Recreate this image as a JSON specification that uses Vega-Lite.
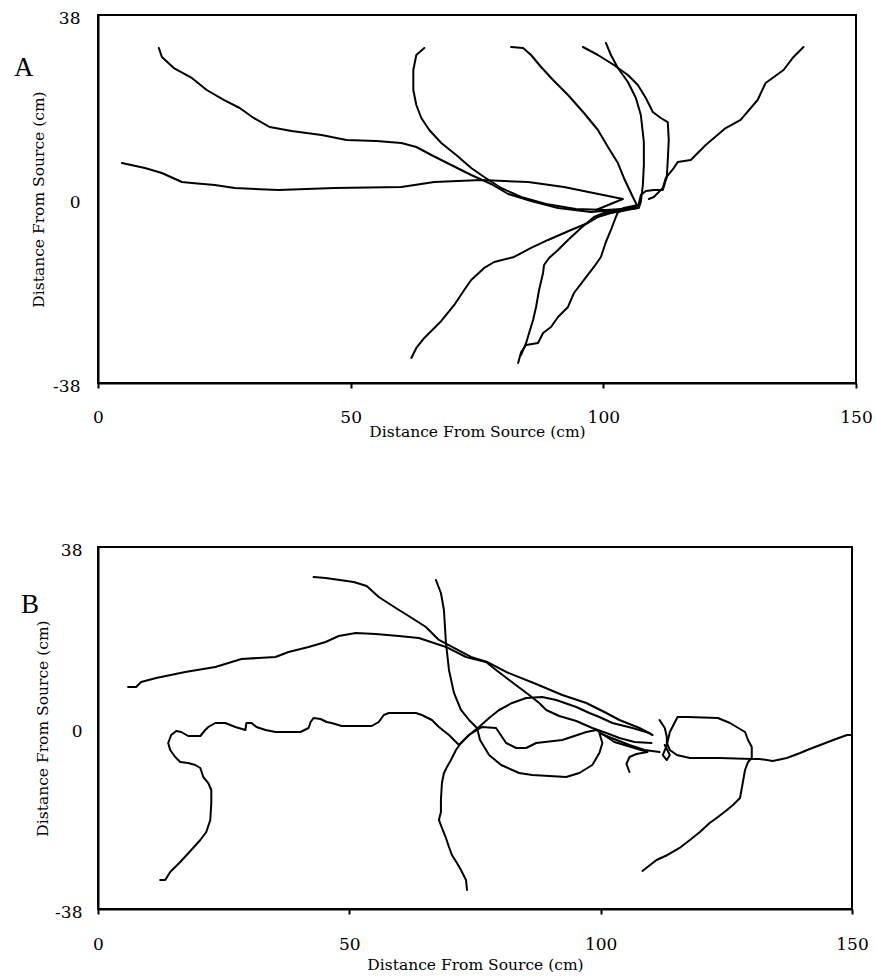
{
"$schema":"https://vega.github.io/schema/vega-lite/v6.json",
"background":"white",
"padding":{"left":13,"top":8,"right":0,"bottom":0},
"spacing":164,
"bounds":"flush",
"config":{
 "view":{"stroke":"black","strokeWidth":2},
 "axis":{"grid":false,"domainColor":"black","domainWidth":2,"tickColor":"black","tickWidth":2,"labelColor":"black","titleColor":"black","labelFont":"DejaVu Serif","titleFont":"DejaVu Serif","labelFontSize":17,"titleFontSize":15.5,"titleFontWeight":"normal","labelFlush":false,"labelOverlap":false},
 "title":{"font":"Liberation Serif","fontSize":27,"fontWeight":"normal","color":"black"}
},
"datasets":{
"A":[
{"t":1,"i":0,"x":12.05,"y":31.18},{"t":1,"i":1,"x":12.64,"y":29.33},{"t":1,"i":2,"x":15.01,"y":27.05},{"t":1,"i":3,"x":18.56,"y":24.99},{"t":1,"i":4,"x":21.52,"y":22.51},{"t":1,"i":5,"x":24.88,"y":20.45},{"t":1,"i":6,"x":28.04,"y":18.79},{"t":1,"i":7,"x":30.81,"y":16.73},{"t":1,"i":8,"x":33.96,"y":14.87},{"t":1,"i":9,"x":38.31,"y":14.04},{"t":1,"i":10,"x":44.23,"y":13.22},{"t":1,"i":11,"x":49.17,"y":12.18},{"t":1,"i":12,"x":55.09,"y":11.98},{"t":1,"i":13,"x":60.03,"y":11.57},{"t":1,"i":14,"x":62.99,"y":10.74},{"t":1,"i":15,"x":66.35,"y":8.88},{"t":1,"i":16,"x":69.90,"y":7.02},{"t":1,"i":17,"x":73.85,"y":4.96},{"t":1,"i":18,"x":77.80,"y":3.10},{"t":1,"i":19,"x":81.16,"y":1.03},{"t":1,"i":20,"x":85.70,"y":-0.41},{"t":1,"i":21,"x":91.03,"y":-1.86},{"t":1,"i":22,"x":97.55,"y":-2.68},{"t":1,"i":23,"x":102.49,"y":-2.27},{"t":1,"i":24,"x":106.83,"y":-1.86},
{"t":2,"i":0,"x":64.57,"y":31.18},{"t":2,"i":1,"x":62.99,"y":29.74},{"t":2,"i":2,"x":62.40,"y":26.64},{"t":2,"i":3,"x":62.40,"y":22.51},{"t":2,"i":4,"x":62.99,"y":19.41},{"t":2,"i":5,"x":63.98,"y":16.73},{"t":2,"i":6,"x":65.56,"y":14.25},{"t":2,"i":7,"x":67.93,"y":11.57},{"t":2,"i":8,"x":70.89,"y":9.09},{"t":2,"i":9,"x":73.85,"y":6.40},{"t":2,"i":10,"x":76.42,"y":4.55},{"t":2,"i":11,"x":79.78,"y":2.27},{"t":2,"i":12,"x":83.73,"y":0.41},{"t":2,"i":13,"x":88.66,"y":-1.03},{"t":2,"i":14,"x":94.59,"y":-2.06},{"t":2,"i":15,"x":100.51,"y":-2.27},{"t":2,"i":16,"x":106.83,"y":-1.86},
{"t":3,"i":0,"x":4.74,"y":7.43},{"t":3,"i":1,"x":9.28,"y":6.40},{"t":3,"i":2,"x":12.64,"y":5.37},{"t":3,"i":3,"x":16.59,"y":3.51},{"t":3,"i":4,"x":18.56,"y":3.30},{"t":3,"i":5,"x":23.10,"y":2.89},{"t":3,"i":6,"x":27.05,"y":2.27},{"t":3,"i":7,"x":35.74,"y":1.86},{"t":3,"i":8,"x":46.80,"y":2.27},{"t":3,"i":9,"x":60.03,"y":2.48},{"t":3,"i":10,"x":66.55,"y":3.51},{"t":3,"i":11,"x":75.83,"y":3.92},{"t":3,"i":12,"x":85.11,"y":3.51},{"t":3,"i":13,"x":92.22,"y":2.48},{"t":3,"i":14,"x":103.87,"y":0.0},{"t":3,"i":15,"x":98.54,"y":-2.27},{"t":3,"i":16,"x":102.49,"y":-2.68},{"t":3,"i":17,"x":106.83,"y":-1.86},
{"t":4,"i":0,"x":95.97,"y":31.39},{"t":4,"i":1,"x":98.93,"y":29.74},{"t":4,"i":2,"x":102.09,"y":27.67},{"t":4,"i":3,"x":104.86,"y":25.61},{"t":4,"i":4,"x":106.83,"y":23.54},{"t":4,"i":5,"x":108.41,"y":20.86},{"t":4,"i":6,"x":109.79,"y":17.97},{"t":4,"i":7,"x":111.37,"y":16.73},{"t":4,"i":8,"x":112.75,"y":15.90},{"t":4,"i":9,"x":112.95,"y":12.18},{"t":4,"i":10,"x":112.75,"y":8.06},{"t":4,"i":11,"x":112.56,"y":4.55},{"t":4,"i":12,"x":111.77,"y":1.86},{"t":4,"i":13,"x":109.99,"y":1.86},{"t":4,"i":14,"x":108.41,"y":1.65},{"t":4,"i":15,"x":107.43,"y":0.83},{"t":4,"i":16,"x":106.83,"y":-1.86},
{"t":5,"i":0,"x":100.51,"y":32.22},{"t":5,"i":1,"x":101.50,"y":29.74},{"t":5,"i":2,"x":102.88,"y":27.05},{"t":5,"i":3,"x":104.86,"y":24.16},{"t":5,"i":4,"x":106.44,"y":20.86},{"t":5,"i":5,"x":107.42,"y":17.35},{"t":5,"i":6,"x":108.02,"y":11.77},{"t":5,"i":7,"x":108.02,"y":7.02},{"t":5,"i":8,"x":107.82,"y":2.89},{"t":5,"i":9,"x":107.42,"y":-0.62},{"t":5,"i":10,"x":107.03,"y":-1.86},
{"t":6,"i":0,"x":81.75,"y":31.39},{"t":6,"i":1,"x":84.12,"y":31.18},{"t":6,"i":2,"x":85.70,"y":29.74},{"t":6,"i":3,"x":87.68,"y":27.26},{"t":6,"i":4,"x":90.05,"y":24.58},{"t":6,"i":5,"x":93.01,"y":21.48},{"t":6,"i":6,"x":96.17,"y":17.76},{"t":6,"i":7,"x":98.93,"y":14.25},{"t":6,"i":8,"x":100.91,"y":10.74},{"t":6,"i":9,"x":102.88,"y":7.43},{"t":6,"i":10,"x":104.07,"y":4.34},{"t":6,"i":11,"x":105.84,"y":0.41},{"t":6,"i":12,"x":106.83,"y":-1.65},
{"t":7,"i":0,"x":139.61,"y":31.39},{"t":7,"i":1,"x":137.64,"y":29.33},{"t":7,"i":2,"x":135.66,"y":26.64},{"t":7,"i":3,"x":132.11,"y":23.96},{"t":7,"i":4,"x":130.53,"y":20.45},{"t":7,"i":5,"x":127.17,"y":16.32},{"t":7,"i":6,"x":124.21,"y":14.66},{"t":7,"i":7,"x":120.26,"y":11.15},{"t":7,"i":8,"x":117.30,"y":8.06},{"t":7,"i":9,"x":114.73,"y":7.64},{"t":7,"i":10,"x":113.94,"y":6.40},{"t":7,"i":11,"x":112.36,"y":4.34},{"t":7,"i":12,"x":111.77,"y":2.27},{"t":7,"i":13,"x":109.99,"y":0.41},{"t":7,"i":14,"x":109.00,"y":0.0},
{"t":8,"i":0,"x":62.01,"y":-32.83},{"t":8,"i":1,"x":62.99,"y":-30.77},{"t":8,"i":2,"x":64.57,"y":-28.70},{"t":8,"i":3,"x":66.55,"y":-26.63},{"t":8,"i":4,"x":67.93,"y":-25.19},{"t":8,"i":5,"x":70.50,"y":-21.89},{"t":8,"i":6,"x":72.47,"y":-18.79},{"t":8,"i":7,"x":73.85,"y":-16.72},{"t":8,"i":8,"x":76.42,"y":-14.24},{"t":8,"i":9,"x":78.40,"y":-13.01},{"t":8,"i":10,"x":82.34,"y":-11.97},{"t":8,"i":11,"x":85.70,"y":-10.11},{"t":8,"i":12,"x":89.06,"y":-8.46},{"t":8,"i":13,"x":93.60,"y":-6.40},{"t":8,"i":14,"x":96.96,"y":-4.95},{"t":8,"i":15,"x":98.93,"y":-3.71},{"t":8,"i":16,"x":101.50,"y":-2.89},{"t":8,"i":17,"x":104.07,"y":-2.27},{"t":8,"i":18,"x":106.83,"y":-1.24},
{"t":9,"i":0,"x":83.14,"y":-33.86},{"t":9,"i":1,"x":83.73,"y":-31.59},{"t":9,"i":2,"x":84.72,"y":-30.15},{"t":9,"i":3,"x":87.08,"y":-29.73},{"t":9,"i":4,"x":88.07,"y":-27.67},{"t":9,"i":5,"x":89.65,"y":-26.43},{"t":9,"i":6,"x":91.03,"y":-24.37},{"t":9,"i":7,"x":93.01,"y":-22.30},{"t":9,"i":8,"x":94.19,"y":-19.41},{"t":9,"i":9,"x":96.17,"y":-16.72},{"t":9,"i":10,"x":98.14,"y":-14.04},{"t":9,"i":11,"x":99.52,"y":-11.97},{"t":9,"i":12,"x":100.51,"y":-8.88},{"t":9,"i":13,"x":101.50,"y":-6.40},{"t":9,"i":14,"x":102.49,"y":-3.71},{"t":9,"i":15,"x":103.08,"y":-2.27},{"t":9,"i":16,"x":104.07,"y":-1.86},{"t":9,"i":17,"x":106.83,"y":-1.24},
{"t":10,"i":0,"x":83.73,"y":-32.21},{"t":10,"i":1,"x":84.72,"y":-29.73},{"t":10,"i":2,"x":85.31,"y":-27.67},{"t":10,"i":3,"x":86.10,"y":-24.98},{"t":10,"i":4,"x":86.69,"y":-22.30},{"t":10,"i":5,"x":87.28,"y":-18.79},{"t":10,"i":6,"x":88.07,"y":-15.28},{"t":10,"i":7,"x":88.27,"y":-13.63},{"t":10,"i":8,"x":89.26,"y":-12.18},{"t":10,"i":9,"x":91.03,"y":-10.53},{"t":10,"i":10,"x":93.01,"y":-8.46},{"t":10,"i":11,"x":95.58,"y":-5.98},{"t":10,"i":12,"x":98.14,"y":-3.71},{"t":10,"i":13,"x":100.12,"y":-2.89},{"t":10,"i":14,"x":102.88,"y":-2.68},{"t":10,"i":15,"x":104.46,"y":-2.27},{"t":10,"i":16,"x":106.83,"y":-1.24}
],
"B":[
{"t":1,"i":0,"x":42.89,"y":31.70},{"t":1,"i":1,"x":45.28,"y":31.49},{"t":1,"i":2,"x":50.87,"y":30.65},{"t":1,"i":3,"x":53.46,"y":29.81},{"t":1,"i":4,"x":55.85,"y":27.50},{"t":1,"i":5,"x":59.25,"y":25.19},{"t":1,"i":6,"x":62.44,"y":23.09},{"t":1,"i":7,"x":65.23,"y":21.20},{"t":1,"i":8,"x":67.82,"y":18.48},{"t":1,"i":9,"x":70.82,"y":16.80},{"t":1,"i":10,"x":74.21,"y":14.91},{"t":1,"i":11,"x":77.40,"y":13.86},{"t":1,"i":12,"x":81.19,"y":11.76},{"t":1,"i":13,"x":87.17,"y":9.24},{"t":1,"i":14,"x":92.36,"y":6.93},{"t":1,"i":15,"x":97.15,"y":5.25},{"t":1,"i":16,"x":100.74,"y":3.36},{"t":1,"i":17,"x":103.73,"y":1.68},{"t":1,"i":18,"x":107.72,"y":0.0},{"t":1,"i":19,"x":110.31,"y":-1.47},
{"t":2,"i":0,"x":5.98,"y":8.61},{"t":2,"i":1,"x":7.58,"y":8.61},{"t":2,"i":2,"x":8.58,"y":9.66},{"t":2,"i":3,"x":11.57,"y":10.50},{"t":2,"i":4,"x":17.35,"y":11.76},{"t":2,"i":5,"x":23.34,"y":12.81},{"t":2,"i":6,"x":28.53,"y":14.49},{"t":2,"i":7,"x":35.31,"y":14.91},{"t":2,"i":8,"x":37.90,"y":15.96},{"t":2,"i":9,"x":41.89,"y":17.01},{"t":2,"i":10,"x":45.28,"y":18.06},{"t":2,"i":11,"x":47.88,"y":19.32},{"t":2,"i":12,"x":51.27,"y":19.95},{"t":2,"i":13,"x":55.26,"y":19.74},{"t":2,"i":14,"x":59.84,"y":19.32},{"t":2,"i":15,"x":63.83,"y":18.90},{"t":2,"i":16,"x":69.22,"y":17.01},{"t":2,"i":17,"x":73.21,"y":14.91},{"t":2,"i":18,"x":77.20,"y":13.86},{"t":2,"i":19,"x":79.19,"y":12.18},{"t":2,"i":20,"x":81.79,"y":10.08},{"t":2,"i":21,"x":85.78,"y":6.93},{"t":2,"i":22,"x":87.77,"y":5.25},{"t":2,"i":23,"x":89.17,"y":3.78},{"t":2,"i":24,"x":91.76,"y":2.52},{"t":2,"i":25,"x":95.15,"y":1.47},{"t":2,"i":26,"x":98.34,"y":0.0},{"t":2,"i":27,"x":101.14,"y":-1.05},{"t":2,"i":28,"x":103.73,"y":-2.10},{"t":2,"i":29,"x":106.72,"y":-2.94},{"t":2,"i":30,"x":110.11,"y":-3.15},
{"t":3,"i":0,"x":67.22,"y":31.07},{"t":3,"i":1,"x":68.22,"y":28.34},{"t":3,"i":2,"x":68.82,"y":24.77},{"t":3,"i":3,"x":69.22,"y":17.85},{"t":3,"i":4,"x":69.82,"y":12.18},{"t":3,"i":5,"x":70.82,"y":7.35},{"t":3,"i":6,"x":72.21,"y":3.78},{"t":3,"i":7,"x":73.81,"y":1.68},{"t":3,"i":8,"x":75.41,"y":0.0},{"t":3,"i":9,"x":76.00,"y":-2.52},{"t":3,"i":10,"x":77.80,"y":-5.67},{"t":3,"i":11,"x":80.20,"y":-7.77},{"t":3,"i":12,"x":83.78,"y":-9.45},{"t":3,"i":13,"x":86.38,"y":-9.87},{"t":3,"i":14,"x":93.16,"y":-10.29},{"t":3,"i":15,"x":95.75,"y":-9.45},{"t":3,"i":16,"x":98.34,"y":-7.77},{"t":3,"i":17,"x":99.74,"y":-5.25},{"t":3,"i":18,"x":100.34,"y":-3.15},{"t":3,"i":19,"x":99.74,"y":-1.05},{"t":3,"i":20,"x":102.14,"y":-2.10},{"t":3,"i":21,"x":105.73,"y":-3.57},{"t":3,"i":22,"x":108.72,"y":-4.62},{"t":3,"i":23,"x":111.71,"y":-5.04},
{"t":4,"i":0,"x":12.37,"y":-31.91},{"t":4,"i":1,"x":13.37,"y":-31.91},{"t":4,"i":2,"x":14.36,"y":-30.23},{"t":4,"i":3,"x":16.36,"y":-28.13},{"t":4,"i":4,"x":18.55,"y":-25.61},{"t":4,"i":5,"x":20.35,"y":-23.51},{"t":4,"i":6,"x":21.54,"y":-21.83},{"t":4,"i":7,"x":22.34,"y":-19.31},{"t":4,"i":8,"x":22.54,"y":-15.74},{"t":4,"i":9,"x":22.54,"y":-13.02},{"t":4,"i":10,"x":21.94,"y":-11.55},{"t":4,"i":11,"x":20.95,"y":-10.29},{"t":4,"i":12,"x":20.35,"y":-8.40},{"t":4,"i":13,"x":19.35,"y":-7.77},{"t":4,"i":14,"x":17.95,"y":-7.35},{"t":4,"i":15,"x":16.36,"y":-7.14},{"t":4,"i":16,"x":15.36,"y":-6.09},{"t":4,"i":17,"x":14.36,"y":-4.62},{"t":4,"i":18,"x":13.96,"y":-3.15},{"t":4,"i":19,"x":14.56,"y":-1.47},{"t":4,"i":20,"x":15.56,"y":-0.63},{"t":4,"i":21,"x":16.56,"y":-0.84},{"t":4,"i":22,"x":17.95,"y":-1.68},{"t":4,"i":23,"x":20.35,"y":-1.68},{"t":4,"i":24,"x":21.34,"y":-0.42},{"t":4,"i":25,"x":21.94,"y":0.21},{"t":4,"i":26,"x":23.34,"y":1.05},{"t":4,"i":27,"x":25.33,"y":1.05},{"t":4,"i":28,"x":27.33,"y":0.21},{"t":4,"i":29,"x":29.32,"y":-0.42},{"t":4,"i":30,"x":29.52,"y":1.05},{"t":4,"i":31,"x":30.52,"y":1.05},{"t":4,"i":32,"x":31.52,"y":0.21},{"t":4,"i":33,"x":33.31,"y":-0.42},{"t":4,"i":34,"x":35.31,"y":-0.84},{"t":4,"i":35,"x":40.29,"y":-0.84},{"t":4,"i":36,"x":41.89,"y":0.0},{"t":4,"i":37,"x":42.29,"y":1.26},{"t":4,"i":38,"x":42.89,"y":2.10},{"t":4,"i":39,"x":44.28,"y":1.89},{"t":4,"i":40,"x":45.48,"y":1.26},{"t":4,"i":41,"x":46.48,"y":1.05},{"t":4,"i":42,"x":48.47,"y":0.42},{"t":4,"i":43,"x":54.46,"y":0.42},{"t":4,"i":44,"x":55.85,"y":1.26},{"t":4,"i":45,"x":56.85,"y":2.73},{"t":4,"i":46,"x":57.85,"y":3.15},{"t":4,"i":47,"x":60.84,"y":3.15},{"t":4,"i":48,"x":63.24,"y":3.15},{"t":4,"i":49,"x":64.43,"y":2.73},{"t":4,"i":50,"x":66.43,"y":1.68},{"t":4,"i":51,"x":67.82,"y":0.21},{"t":4,"i":52,"x":69.82,"y":-1.47},{"t":4,"i":53,"x":71.81,"y":-3.57},{"t":4,"i":54,"x":73.81,"y":-1.47},{"t":4,"i":55,"x":76.40,"y":0.21},{"t":4,"i":56,"x":79.19,"y":0.0},{"t":4,"i":57,"x":81.19,"y":-3.15},{"t":4,"i":58,"x":83.18,"y":-4.20},{"t":4,"i":59,"x":85.18,"y":-4.20},{"t":4,"i":60,"x":87.17,"y":-3.15},{"t":4,"i":61,"x":92.36,"y":-2.52},{"t":4,"i":62,"x":97.15,"y":-0.84},{"t":4,"i":63,"x":99.14,"y":-0.42},{"t":4,"i":64,"x":102.73,"y":-2.94},{"t":4,"i":65,"x":106.72,"y":-4.20},{"t":4,"i":66,"x":109.32,"y":-5.04},{"t":4,"i":67,"x":107.12,"y":-5.46},{"t":4,"i":68,"x":105.73,"y":-6.09},{"t":4,"i":69,"x":105.13,"y":-7.56},{"t":4,"i":70,"x":105.73,"y":-9.24},
{"t":5,"i":0,"x":73.41,"y":-34.01},{"t":5,"i":1,"x":73.21,"y":-31.91},{"t":5,"i":2,"x":72.21,"y":-29.81},{"t":5,"i":3,"x":71.41,"y":-28.34},{"t":5,"i":4,"x":70.41,"y":-26.66},{"t":5,"i":5,"x":69.82,"y":-24.98},{"t":5,"i":6,"x":69.22,"y":-23.09},{"t":5,"i":7,"x":68.42,"y":-20.99},{"t":5,"i":8,"x":67.82,"y":-19.31},{"t":5,"i":9,"x":68.22,"y":-17.63},{"t":5,"i":10,"x":68.22,"y":-15.11},{"t":5,"i":11,"x":68.42,"y":-11.55},{"t":5,"i":12,"x":68.82,"y":-9.45},{"t":5,"i":13,"x":69.42,"y":-8.19},{"t":5,"i":14,"x":70.22,"y":-6.72},{"t":5,"i":15,"x":71.21,"y":-4.62},{"t":5,"i":16,"x":72.21,"y":-3.15},{"t":5,"i":17,"x":73.81,"y":-1.47},{"t":5,"i":18,"x":75.80,"y":0.21},{"t":5,"i":19,"x":77.80,"y":2.10},{"t":5,"i":20,"x":79.79,"y":3.78},{"t":5,"i":21,"x":82.38,"y":5.25},{"t":5,"i":22,"x":85.18,"y":6.30},{"t":5,"i":23,"x":88.37,"y":6.51},{"t":5,"i":24,"x":91.16,"y":5.88},{"t":5,"i":25,"x":95.15,"y":4.41},{"t":5,"i":26,"x":97.75,"y":3.15},{"t":5,"i":27,"x":99.74,"y":2.31},{"t":5,"i":28,"x":102.33,"y":1.05},{"t":5,"i":29,"x":106.32,"y":0.0},{"t":5,"i":30,"x":109.72,"y":-1.05},
{"t":6,"i":0,"x":149.81,"y":-1.47},{"t":6,"i":1,"x":149.01,"y":-1.47},{"t":6,"i":2,"x":146.27,"y":-2.52},{"t":6,"i":3,"x":143.68,"y":-3.57},{"t":6,"i":4,"x":141.09,"y":-4.62},{"t":6,"i":5,"x":139.69,"y":-5.25},{"t":6,"i":6,"x":137.04,"y":-6.30},{"t":6,"i":7,"x":134.25,"y":-6.93},{"t":6,"i":8,"x":131.66,"y":-6.51},{"t":6,"i":9,"x":130.06,"y":-6.51},{"t":6,"i":10,"x":123.73,"y":-6.30},{"t":6,"i":11,"x":117.75,"y":-6.30},{"t":6,"i":12,"x":115.15,"y":-5.67},{"t":6,"i":13,"x":113.76,"y":-4.62},{"t":6,"i":14,"x":113.16,"y":-3.15},{"t":6,"i":15,"x":113.16,"y":-1.89},{"t":6,"i":16,"x":112.76,"y":0.0},{"t":6,"i":17,"x":111.71,"y":1.68},
{"t":7,"i":0,"x":108.32,"y":-30.02},{"t":7,"i":1,"x":109.32,"y":-29.18},{"t":7,"i":2,"x":111.11,"y":-27.71},{"t":7,"i":3,"x":113.30,"y":-26.66},{"t":7,"i":4,"x":115.70,"y":-25.19},{"t":7,"i":5,"x":117.75,"y":-23.51},{"t":7,"i":6,"x":119.74,"y":-21.83},{"t":7,"i":7,"x":121.68,"y":-19.94},{"t":7,"i":8,"x":123.33,"y":-18.68},{"t":7,"i":9,"x":125.13,"y":-17.21},{"t":7,"i":10,"x":126.32,"y":-16.16},{"t":7,"i":11,"x":127.72,"y":-14.69},{"t":7,"i":12,"x":128.12,"y":-12.39},{"t":7,"i":13,"x":128.72,"y":-8.82},{"t":7,"i":14,"x":129.32,"y":-7.14},{"t":7,"i":15,"x":130.06,"y":-6.30},{"t":7,"i":16,"x":130.06,"y":-3.99},{"t":7,"i":17,"x":129.32,"y":-2.52},{"t":7,"i":18,"x":128.72,"y":-0.84},{"t":7,"i":19,"x":125.72,"y":1.05},{"t":7,"i":20,"x":123.33,"y":2.10},{"t":7,"i":21,"x":117.30,"y":2.31},{"t":7,"i":22,"x":115.30,"y":2.31},{"t":7,"i":23,"x":113.76,"y":-0.84},{"t":7,"i":24,"x":113.16,"y":-3.57},{"t":7,"i":25,"x":112.36,"y":-5.67},{"t":7,"i":26,"x":113.16,"y":-6.72},{"t":7,"i":27,"x":113.76,"y":-5.67},{"t":7,"i":28,"x":112.76,"y":-3.57}
]
},
"vconcat":[
{
 "width":758,"height":368,
 "data":{"name":"A"},
 "title":{"text":"A","orient":"left","anchor":"end","frame":"group","angle":0,"align":"right","baseline":"alphabetic","offset":-22,"dy":61},
 "mark":{"type":"line","color":"black","strokeWidth":2,"strokeJoin":"round","strokeCap":"round"},
 "encoding":{
  "x":{"field":"x","type":"quantitative","scale":{"domain":[0,150],"nice":false,"zero":false},
       "axis":{"values":[0,50,100,150],"tickSize":5,"labelPadding":21,"title":"Distance From Source (cm)","titleX":379,"titleY":48,"titleBaseline":"middle"}},
  "y":{"field":"y","type":"quantitative","scale":{"domain":[-38,38],"nice":false,"zero":false},
       "axis":{"values":[-38,0,38],"ticks":false,"tickSize":0,"labelPadding":18,"labelOffset":3,"labelExpr":"datum.value < 0 ? '-' + abs(datum.value) : datum.label","title":"Distance From Source (cm)","titleX":-60,"titleY":184,"titleBaseline":"middle"}},
  "detail":{"field":"t","type":"nominal"},
  "order":{"field":"i","type":"quantitative"}
 }
},
{
 "width":754,"height":362,
 "data":{"name":"B"},
 "title":{"text":"B","orient":"left","anchor":"end","frame":"group","angle":0,"align":"right","baseline":"alphabetic","offset":-22,"dy":66},
 "mark":{"type":"line","color":"black","strokeWidth":2,"strokeJoin":"round","strokeCap":"round"},
 "encoding":{
  "x":{"field":"x","type":"quantitative","scale":{"domain":[0,150],"nice":false,"zero":false},
       "axis":{"values":[0,50,100,150],"tickSize":5,"labelPadding":22,"title":"Distance From Source (cm)","titleX":377,"titleY":55,"titleBaseline":"middle"}},
  "y":{"field":"y","type":"quantitative","scale":{"domain":[-38,38],"nice":false,"zero":false},
       "axis":{"values":[-38,0,38],"ticks":false,"tickSize":0,"labelPadding":16,"labelOffset":3,"labelExpr":"datum.value < 0 ? '-' + abs(datum.value) : datum.label","title":"Distance From Source (cm)","titleX":-56,"titleY":181,"titleBaseline":"middle"}},
  "detail":{"field":"t","type":"nominal"},
  "order":{"field":"i","type":"quantitative"}
 }
}
]
}
